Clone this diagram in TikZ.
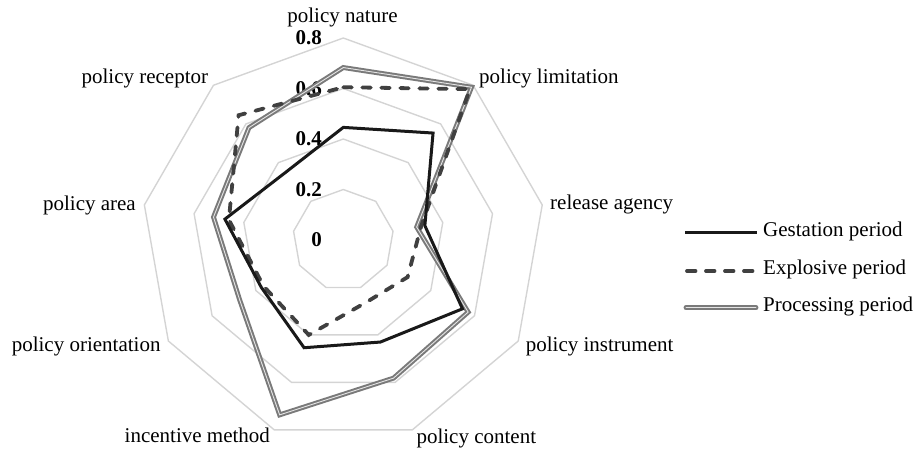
\documentclass[tikz,border=0pt]{standalone}
\usepackage{fontspec}
\setmainfont{Liberation Serif}
\begin{document}
\begin{tikzpicture}[x=1pt,y=-1pt,
  gridline/.style={draw=black!17, line width=1.4pt},
  gestation/.style={draw=black!90, line width=3pt},
  explosive/.style={draw=black!75, line width=3.8pt, dash pattern=on 8.5pt off 10.5pt, line cap=round},
  processing/.style={draw=black!52, double=black!10, double distance=0.9pt, line width=2pt},
  axislabel/.style={font=\fontsize{21}{25}\selectfont, inner sep=0pt},
  ticklabel/.style={font=\bfseries\fontsize{21}{25}\selectfont, inner sep=0pt, anchor=east},
  legendtext/.style={font=\fontsize{21}{25}\selectfont, inner sep=0pt, anchor=mid west}]
\useasboundingbox (0,0) rectangle (919,453);
\coordinate (C) at (343.3,240);
% grid rings
\foreach \r in {1,2,3,4}{
  \draw[gridline] ([shift={(C)}]90:{\r*50.5pt})
    \foreach \k in {1,...,8}{ -- ([shift={(C)}]{90-40*\k}:{\r*50.5pt}) } -- cycle;
}
% tick labels
\node[ticklabel] (t0) at (322,240) {0};
\node[ticklabel] (t1) at (322,189.5) {0.2};
\node[ticklabel] (t2) at (322,139) {0.4};
\node[ticklabel] (t3) at (322,88.5) {0.6};
\node[ticklabel] (t4) at (322,38) {0.8};
% category labels
\node[axislabel, anchor=mid] (lnat) at (342.5,20) {policy nature};
\node[axislabel, anchor=mid west] (llim) at (479,81.3) {policy limitation};
\node[axislabel, anchor=mid west] (lrel) at (550,207.5) {release agency};
\node[axislabel, anchor=mid west] (lins) at (525.7,349.5) {policy instrument};
\node[axislabel, anchor=mid] (lcon) at (476.3,441.3) {policy content};
\node[axislabel, anchor=mid] (linc) at (197.3,440.3) {incentive method};
\node[axislabel, anchor=mid east] (lori) at (160.7,349.6) {policy orientation};
\node[axislabel, anchor=mid east] (lare) at (136,208) {policy area};
\node[axislabel, anchor=mid east] (lrec) at (208.3,81.3) {policy receptor};
% data points
\foreach \v [count=\i from 0] in {0.446,0.553,0.328,0.545,0.43,0.454,0.375,0.476,0.352}
  \coordinate (g\i) at ([shift={(C)}]{90-40*\i}:{\v*252.5pt});
\foreach \v [count=\i from 0] in {0.605,0.78,0.313,0.294,0.263,0.40,0.365,0.46,0.645}
  \coordinate (e\i) at ([shift={(C)}]{90-40*\i}:{\v*252.5pt});
\foreach \v [count=\i from 0] in {0.683,0.79,0.295,0.571,0.582,0.737,0.474,0.522,0.581}
  \coordinate (p\i) at ([shift={(C)}]{90-40*\i}:{\v*252.5pt});
% series
\draw[processing] (p0) -- (p1) -- (p2) -- (p3) -- (p4) -- (p5) -- (p6) -- (p7) -- (p8) -- cycle;
\draw[explosive] (e0) -- (e1) -- (e2) -- (e3) -- (e4) -- (e5) -- (e6) -- (e7) -- (e8) -- cycle;
\draw[gestation] (g0) -- (g1) -- (g2) -- (g3) -- (g4) -- (g5) -- (g6) -- (g7) -- (g8) -- cycle;
% legend
\coordinate (lg1a) at (685,232.7); \coordinate (lg1b) at (757,232.7);
\coordinate (lg2a) at (687,271); \coordinate (lg2b) at (755,271);
\coordinate (lg3a) at (686,307.7); \coordinate (lg3b) at (756,307.7);
\draw[gestation] (lg1a) -- (lg1b);
\draw[explosive] (lg2a) -- (lg2b);
\draw[processing, line cap=round] (lg3a) -- (lg3b);
\node[legendtext] (tg) at (763,234) {Gestation period};
\node[legendtext] (te) at (763,272.5) {Explosive period};
\node[legendtext] (tp) at (763,309.5) {Processing period};
\end{tikzpicture}
\end{document}
